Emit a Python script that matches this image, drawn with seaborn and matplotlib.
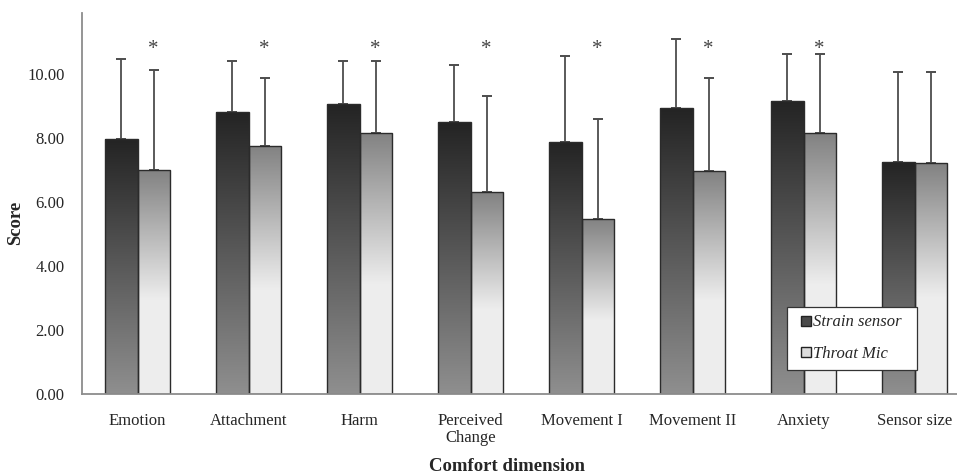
import numpy as np
import pandas as pd
import seaborn as sns
import matplotlib.pyplot as plt
from matplotlib.patches import Patch, Rectangle
from matplotlib.legend_handler import HandlerPatch

# comfort scores
dimensions = ['Emotion', 'Attachment', 'Harm', 'Perceived\nChange', 'Movement I',
              'Movement II', 'Anxiety', 'Sensor size']
strain_mean = [7.96, 8.81, 9.05, 8.49, 7.86, 8.93, 9.16, 7.26]
strain_sd = [2.49, 1.60, 1.34, 1.79, 2.71, 2.15, 1.45, 2.80]
throat_mean = [7.00, 7.76, 8.16, 6.30, 5.47, 6.96, 8.15, 7.21]
throat_sd = [3.12, 2.10, 2.25, 3.01, 3.12, 2.90, 2.46, 2.85]
significant = [True, True, True, True, True, True, True, False]
groups = ['Strain sensor', 'Throat Mic']

df = pd.DataFrame({
    'dimension': dimensions * 2,
    'score': strain_mean + throat_mean,
    'device': [groups[0]] * len(dimensions) + [groups[1]] * len(dimensions),
})

sns.set_style('white')
plt.rcParams['font.family'] = ['Liberation Serif', 'DejaVu Serif']

fig = plt.figure(figsize=(9.57, 4.75), dpi=100)
ax = fig.add_axes([82 / 957, 1 - 394 / 475, 888 / 957, 381 / 475])

sns.barplot(data=df, x='dimension', y='score', hue='device', hue_order=groups,
            order=dimensions, width=0.58, errorbar=None, legend=False, ax=ax,
            edgecolor='#2b2b2b', linewidth=1.0)


def gradient(top, bottom, stop):
    # vertical ramp from top colour to bottom colour, flat below `stop`
    t = np.linspace(0, 1, 200)
    t = np.clip(t / stop, 0, 1)
    col = np.array(top)[None, :] * (1 - t[:, None]) + np.array(bottom)[None, :] * t[:, None]
    return col[:, None, :]


grads = [gradient([0.14, 0.14, 0.14], [0.56, 0.56, 0.56], 1.0),
         gradient([0.51, 0.51, 0.51], [0.93, 0.93, 0.93], 0.58)]

sds = [strain_sd, throat_sd]
means = [strain_mean, throat_mean]
bar_sets = list(ax.containers)[:2]
for k, cont in enumerate(bar_sets):
    xs = []
    for bar in cont.patches:
        x0, y0 = bar.get_x(), bar.get_y()
        w, h = bar.get_width(), bar.get_height()
        im = ax.imshow(grads[k], extent=[x0, x0 + w, y0, y0 + h], aspect='auto',
                       origin='upper', zorder=1.5)
        im.set_clip_path(bar)
        bar.set_facecolor('none')
        bar.set_zorder(2)
        xs.append(x0 + w / 2)
    ax.errorbar(xs, means[k], yerr=[np.zeros(len(xs)), sds[k]], fmt='none',
                ecolor='#4d4d4d', elinewidth=1.3, capsize=3.5, capthick=1.4, zorder=1)
    if k == 1:
        for x, s in zip(xs, significant):
            if s:
                ax.text(x, 10.75, '*', ha='center', va='center', fontsize=15, color='#444444')

ax.set_xlim(-0.5, 7.5)
ax.set_ylim(0, 11.9)
ax.set_yticks(np.arange(0, 10.01, 2))
ax.set_yticklabels([f'{v:.2f}' for v in np.arange(0, 10.01, 2)], fontsize=12)
ax.set_xticks(range(len(dimensions)))
ax.set_xticklabels(dimensions, fontsize=12, linespacing=1.05)
ax.set_xticks(np.arange(-0.5, 8, 1), minor=True)
ax.tick_params(axis='x', which='major', length=0, pad=14)
ax.tick_params(axis='x', which='minor', length=5, width=1, color='#888888', direction='out')
ax.tick_params(axis='y', length=7, width=1, color='#888888', direction='inout', pad=9)

for side in ['top', 'right']:
    ax.spines[side].set_visible(False)
for side in ['left', 'bottom']:
    ax.spines[side].set_color('#8c8c8c')
    ax.spines[side].set_linewidth(1.3)

ax.set_ylabel('Score', fontsize=13.5, fontweight='bold')
ax.yaxis.set_label_coords(-0.065, 0.45)
ax.set_xlabel('Comfort dimension', fontsize=13.5, fontweight='bold')
ax.xaxis.set_label_coords((507 - 82) / 888, -0.168)


def small_square(legend, orig_handle, xdescent, ydescent, width, height, fontsize):
    s = 0.6 * fontsize
    return Rectangle((-xdescent + width - s, -ydescent + (height - s) / 2), s, s)


handles = [Patch(facecolor='#4a4a4a', edgecolor='#222222', label=groups[0]),
           Patch(facecolor='#dcdcdc', edgecolor='#222222', label=groups[1])]
leg = fig.legend(handles=handles, loc='upper left',
                 bbox_to_anchor=(787 / 957, 1 - 371 / 475, 130 / 957, 64 / 475),
                 mode='expand', frameon=True, fancybox=False, framealpha=1,
                 edgecolor='#333333', prop={'style': 'italic', 'size': 12},
                 handlelength=1.0, handleheight=0.6, handletextpad=0.1,
                 labelspacing=0.95, borderpad=0.45, borderaxespad=0,
                 handler_map={Patch: HandlerPatch(patch_func=small_square)})
leg.get_frame().set_linewidth(0.9)

fig.savefig('out.png', dpi=100)
